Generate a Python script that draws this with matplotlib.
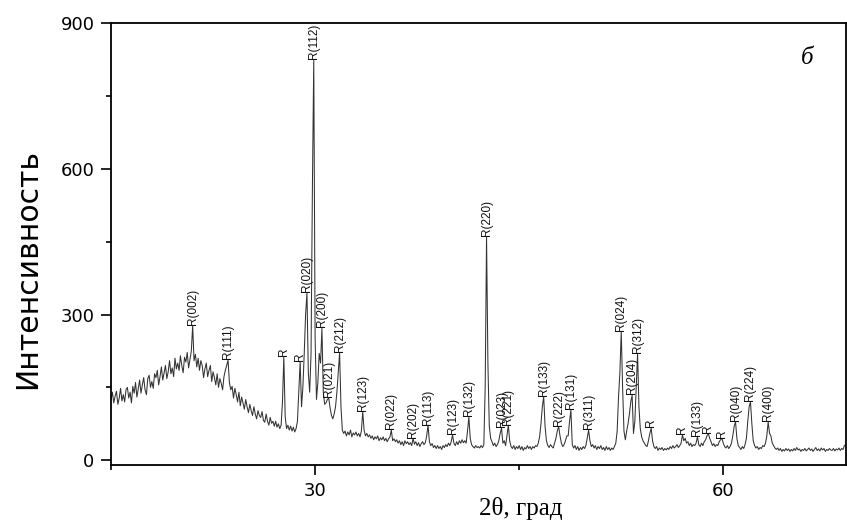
import matplotlib
matplotlib.use("Agg")
import matplotlib.pyplot as plt
import numpy as np
from matplotlib.ticker import MultipleLocator

# 2theta grid, 0.1 deg step from 15.0 to 69.0
two_theta = np.round(np.arange(150, 691) / 10.0, 1)

# intensity, one row per degree (x.0 ... x.9)
intensity = [
    125, 140, 118, 132, 142, 115, 128, 148, 122, 135,   # 15
    120, 145, 150, 128, 140, 118, 152, 138, 160, 130,   # 16
    148, 165, 138, 155, 170, 145, 135, 168, 175, 150,   # 17
    162, 148, 178, 170, 185, 155, 172, 192, 165, 180,   # 18
    195, 168, 182, 205, 178, 190, 172, 210, 188, 200,   # 19
    185, 215, 195, 180, 212, 202, 222, 190, 208, 225,   # 20
    277, 205, 218, 192, 210, 185, 205, 195, 170, 188,   # 21
    200, 172, 185, 195, 162, 182, 170, 155, 178, 150,   # 22
    168, 158, 145, 172, 185, 195, 206, 160, 145, 152,   # 23
    128, 148, 135, 120, 140, 112, 130, 118, 105, 125,   # 24
    110, 98, 115, 102, 92, 110, 95, 85, 102, 92,        # 25
    88, 100, 82, 78, 95, 80, 72, 88, 76, 80,            # 26
    70, 80, 68, 75, 65, 72, 120, 213, 90, 65,           # 27
    72, 62, 70, 60, 68, 58, 65, 80, 140, 203,           # 28
    110, 150, 220, 300, 345, 180, 140, 220, 560, 825,   # 29
    250, 125, 160, 220, 200, 272, 140, 115, 118, 125,   # 30
    128, 108, 92, 85, 95, 110, 140, 180, 221, 110,      # 31
    62, 55, 60, 50, 58, 52, 62, 48, 56, 52,             # 32
    58, 50, 55, 48, 60, 100, 62, 50, 55, 48,            # 33
    52, 45, 50, 42, 48, 44, 50, 40, 46, 42,             # 34
    48, 40, 45, 38, 44, 48, 62, 40, 44, 38,             # 35
    42, 35, 40, 32, 38, 30, 40, 34, 38, 32,             # 36
    36, 30, 45, 33, 38, 30, 36, 28, 34, 38,             # 37
    32, 36, 50, 72, 38, 30, 34, 26, 30, 24,             # 38
    30, 24, 28, 22, 30, 26, 32, 28, 35, 30,             # 39
    38, 52, 35, 30, 38, 32, 40, 35, 42, 36,             # 40
    40, 35, 60, 89, 45, 32, 28, 25, 30, 26,             # 41
    28, 25, 30, 26, 32, 150, 460, 200, 70, 45,          # 42
    38, 30, 35, 28, 32, 40, 55, 66, 35, 40,             # 43
    30, 50, 72, 40, 28, 24, 30, 22, 28, 24,             # 44
    30, 22, 28, 20, 26, 23, 30, 24, 28, 22,             # 45
    28, 25, 30, 28, 35, 48, 75, 110, 131, 70,           # 46
    40, 30, 26, 32, 28, 25, 35, 45, 60, 69,             # 47
    50, 35, 28, 32, 40, 50, 50, 80, 103, 32,            # 48
    25, 30, 22, 28, 20, 26, 22, 28, 24, 30,             # 49
    45, 62, 40, 28, 32, 25, 30, 22, 28, 24,             # 50
    30, 22, 26, 20, 28, 22, 26, 20, 25, 22,             # 51
    28, 35, 60, 130, 180, 265, 150, 60, 42, 60,         # 52
    75, 95, 120, 134, 55, 80, 150, 220, 110, 65,        # 53
    48, 40, 35, 30, 28, 40, 55, 66, 40, 28,             # 54
    24, 28, 20, 25, 22, 26, 20, 24, 21, 25,             # 55
    22, 28, 24, 30, 25, 28, 32, 26, 30, 35,             # 56
    52, 40, 45, 35, 38, 30, 35, 28, 32, 30,             # 57
    35, 48, 32, 28, 35, 30, 38, 42, 50, 55,             # 58
    45, 38, 30, 34, 28, 32, 30, 38, 42, 45,             # 59
    35, 28, 25, 30, 24, 28, 35, 50, 70, 79,             # 60
    45, 30, 26, 22, 28, 24, 32, 45, 80, 110,            # 61
    120, 75, 40, 30, 25, 28, 22, 26, 24, 30,            # 62
    28, 35, 50, 79, 55, 50, 35, 30, 25, 22,             # 63
    25, 20, 24, 18, 22, 19, 24, 20, 23, 18,             # 64
    22, 19, 24, 20, 26, 21, 23, 18, 22, 20,             # 65
    24, 19, 22, 25, 20, 23, 18, 22, 26, 20,             # 66
    23, 19, 25, 21, 24, 18, 22, 20, 24, 21,             # 67
    20, 24, 19, 23, 21, 25, 20, 24, 22, 30,             # 68
    32,                                                 # 69
]

# indexed reflections
peak_pos = [21.0, 23.6, 27.7, 28.9, 29.4, 29.9, 30.5, 31.0, 31.8, 33.5,
            35.6, 37.2, 38.3, 40.1, 41.3, 42.6, 43.7, 44.2, 46.8, 47.9,
            48.8, 50.1, 52.5, 53.3, 53.7, 54.7, 57.0, 58.1, 58.9, 59.9,
            60.9, 62.0, 63.3]
peak_int = [277, 206, 213, 203, 345, 825, 272, 128, 221, 100,
            62, 45, 72, 52, 89, 460, 66, 72, 131, 69,
            103, 62, 265, 134, 220, 66, 52, 48, 55, 45,
            79, 120, 79]
peak_lbl = ["R(002)", "R(111)", "R", "R", "R(020)", "R(112)", "R(200)", "R(021)", "R(212)", "R(123)",
            "R(022)", "R(202)", "R(113)", "R(123)", "R(132)", "R(220)", "R(023)", "R(221)", "R(133)", "R(222)",
            "R(131)", "R(311)", "R(024)", "R(204)", "R(312)", "R", "R", "R(133)", "R", "R",
            "R(040)", "R(224)", "R(400)"]

plt.rcParams['font.family'] = ['DejaVu Sans']

fig = plt.figure(figsize=(8.47, 5.28), dpi=100)
ax = fig.add_axes([0.1311, 0.1193, 0.8674, 0.8366])

ax.plot(two_theta, intensity, color='#333333', linewidth=0.75)

for x, y, lbl in zip(peak_pos, peak_int, peak_lbl):
    ax.annotate(lbl, (x, y), xytext=(0, 0.5), textcoords='offset points',
                rotation=90, ha='center', va='bottom', fontsize=8.5, color='#111111',
                family=['Liberation Sans', 'DejaVu Sans'])

ax.set_xlim(15, 69)
ax.set_ylim(-10, 900)
ax.xaxis.set_major_locator(MultipleLocator(30))
ax.xaxis.set_minor_locator(MultipleLocator(15))
ax.yaxis.set_major_locator(MultipleLocator(300))
ax.yaxis.set_minor_locator(MultipleLocator(150))
ax.tick_params(which='major', direction='out', length=7, width=1.2, labelsize=13, pad=5)
ax.tick_params(which='minor', direction='out', length=3.5, width=1.2)
for sp in ax.spines.values():
    sp.set_linewidth(1.3)

ax.set_ylabel('Интенсивность', fontsize=21.5)
ax.yaxis.set_label_coords(-0.094, 0.443)
ax.set_xlabel('2θ, град', fontsize=18, family=['Liberation Serif', 'DejaVu Serif'])
ax.xaxis.set_label_coords(0.558, -0.072)
ax.text(0.948, 0.921, 'б', transform=ax.transAxes, fontsize=18, style='italic',
        family=['Liberation Serif', 'DejaVu Serif'], ha='center', va='center')

fig.savefig('out.png', dpi=100)
